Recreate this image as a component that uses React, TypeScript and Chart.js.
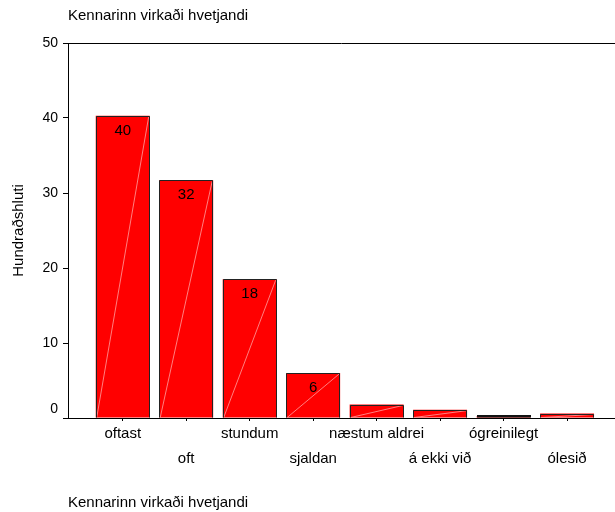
import React, { useEffect, useRef } from "react";
import { Chart, registerables } from "chart.js";

Chart.register(...registerables);

const categories = [
  "oftast",
  "oft",
  "stundum",
  "sjaldan",
  "næstum aldrei",
  "á ekki við",
  "ógreinilegt",
  "ólesið",
];
const percentages = [40.3, 31.7, 18.5, 6.0, 1.8, 1.1, 0.25, 0.6];
const barLabels = ["40", "32", "18", "6", "", "", "", ""];
const yTicks = [0, 10, 20, 30, 40, 50];
const chartTitle = "Kennarinn virkaði hvetjandi";
const xTitle = "Kennarinn virkaði hvetjandi";
const yTitle = "Hundraðshluti";

const FONT = "'Liberation Sans', Arial, Helvetica, sans-serif";

const decor = {
  id: "decor",
  afterDatasetsDraw(chart: any) {
    const ctx = chart.ctx as CanvasRenderingContext2D;
    const meta = chart.getDatasetMeta(0);
    ctx.save();
    meta.data.forEach((bar: any, i: number) => {
      const { x, y, base, width } = bar.getProps(["x", "y", "base", "width"], true);
      const l = x - width / 2;
      const r = x + width / 2;
      const la = Math.round(l) + 0.5;
      const ra = Math.round(r) - 0.5;
      const ya = Math.round(y) + 0.5;
      if (base - y > 2) {
        ctx.strokeStyle = "rgba(255,160,160,1)";
        ctx.lineWidth = 0.8;
        ctx.beginPath();
        ctx.moveTo(l + 1, base);
        ctx.lineTo(r - 1, y + 1);
        ctx.stroke();
        ctx.strokeStyle = "#222";
        ctx.lineWidth = 1;
        ctx.beginPath();
        ctx.moveTo(la, base);
        ctx.lineTo(la, ya);
        ctx.lineTo(ra, ya);
        ctx.lineTo(ra, base);
        ctx.stroke();
      } else {
        ctx.fillStyle = "#111";
        ctx.fillRect(Math.round(l), Math.round(y) - 1, Math.round(r) - Math.round(l), base - Math.round(y) + 1);
      }
      if (barLabels[i]) {
        ctx.fillStyle = "#000";
        ctx.font = `15px ${FONT}`;
        ctx.textAlign = "center";
        ctx.textBaseline = "middle";
        ctx.fillText(barLabels[i], x, y + 15);
      }
    });
    const a = chart.chartArea;
    ctx.strokeStyle = "#000";
    ctx.lineWidth = 1;
    ctx.beginPath();
    const ty = Math.floor(a.top) + 0.5;
    ctx.moveTo(a.left, ty);
    ctx.lineTo(a.right, ty);
    ctx.stroke();

    ctx.fillStyle = "#000";
    ctx.font = `15px ${FONT}`;
    ctx.textAlign = "left";
    ctx.textBaseline = "middle";
    ctx.fillText(chartTitle, a.left, 16);
    ctx.fillText(xTitle, a.left, 503);

    ctx.translate(19, (a.top + a.bottom) / 2);
    ctx.rotate(-Math.PI / 2);
    ctx.textAlign = "center";
    ctx.fillText(yTitle, 0, 0);
    ctx.restore();
  },
};

export default function App() {
  const ref = useRef<HTMLCanvasElement | null>(null);

  useEffect(() => {
    if (!ref.current) return;
    Chart.defaults.color = "#000";
    const chart = new Chart(ref.current, {
      type: "bar",
      data: {
        datasets: [
          {
            data: percentages.map((v, i) => ({ x: i, y: v })),
            backgroundColor: "#ff0000",
            borderColor: "#000000",
            borderWidth: 0,
            categoryPercentage: 1,
            barPercentage: 0.85,
          },
        ],
      },
      options: {
        animation: false,
        responsive: false,
        devicePixelRatio: 1,
        layout: { padding: { top: 43, left: 0, right: 0, bottom: 0 } },
        plugins: {
          legend: { display: false },
          tooltip: { enabled: false },
          title: { display: false },
        },
        scales: {
          x: {
            type: "linear",
            min: -0.862,
            max: 7.755,
            bounds: "data",
            offset: false,
            z: 1,
            afterBuildTicks: (scale: any) => {
              scale.ticks = categories.map((_, i) => ({ value: i }));
            },
            afterFit: (scale: any) => {
              scale.height = 94;
            },
            grid: {
              offset: false,
              drawOnChartArea: false,
              drawTicks: true,
              tickLength: 3,
              color: "#000",
            },
            border: { display: true, color: "#000", width: 1 },
            ticks: {
              autoSkip: false,
              maxRotation: 0,
              minRotation: 0,
              padding: 0,
              color: "#000",
              font: { family: FONT, size: 15, lineHeight: 25 / 15 },
              callback: (value: any) => {
                const i = Math.round(Number(value));
                return i % 2 === 0 ? [categories[i]] : ["", categories[i]];
              },
            },
          },
          y: {
            type: "linear",
            min: 0,
            max: 50,
            afterBuildTicks: (scale: any) => {
              scale.ticks = yTicks.map((v) => ({ value: v }));
            },
            afterFit: (scale: any) => {
              scale.width = 68;
            },
            grid: {
              drawOnChartArea: false,
              drawTicks: true,
              tickLength: 5,
              color: "#000",
            },
            border: { display: true, color: "#000", width: 1 },
            ticks: {
              padding: 5,
              color: "#000",
              font: { family: FONT, size: 14 },
              callback: (value: any) => (Number(value) === 0 ? ["0", ""] : String(value)),
            },
          },
        },
      },
      plugins: [decor],
    });
    return () => chart.destroy();
  }, []);

  return (
    <div style={{ position: "absolute", left: 0, top: 0, width: 615, height: 512, background: "#fff" }}>
      <canvas ref={ref} width={615} height={512} style={{ display: "block" }} />
    </div>
  );
}
